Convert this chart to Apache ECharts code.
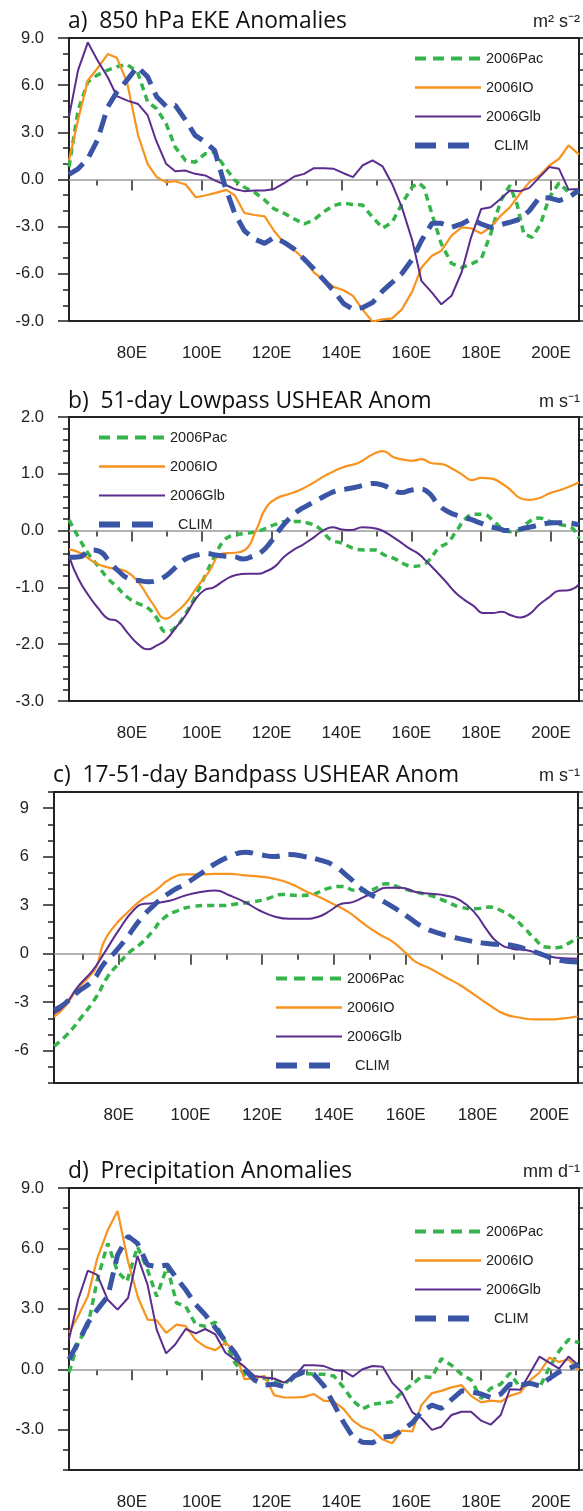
<!DOCTYPE html>
<html>
<head>
<meta charset="utf-8">
<script src="https://cdn.jsdelivr.net/npm/echarts@6/dist/echarts.min.js"></script>
<style>
  html, body { margin: 0; padding: 0; background: #fff; }
  #main { width: 583px; height: 1511px; }
</style>
</head>
<body>
<div id="main"></div>
<script>
// longitude ticks, shared by all panels
const lonMajor = [80, 100, 120, 140, 160, 180, 200];
const lonMinor = [70, 90, 110, 130, 150, 170, 190];
const seriesNames = ["2006Pac", "2006IO", "2006Glb", "CLIM"];

// a) 850 hPa EKE anomalies  [lon, value]
const ekeTicks = [-9, -6, -3, 0, 3, 6, 9];
const ekeMinor = [-8, -7, -5, -4, -2, -1, 1, 2, 4, 5, 7, 8];
const ekePac = [[62,0.79],[64.6,4.4],[67.4,6.2],[70.1,6.64],[73.1,6.96],[75.7,7.17],[78.6,7.32],[81.6,6.85],[84.5,4.94],[87.1,4.5],[89.8,3.55],[92.4,2.06],[95.4,1.2],[98.1,1.1],[101,1.64],[103.7,1.74],[106.6,0.79],[109.5,-0.06],[112.2,-0.49],[115.1,-0.81],[118,-1.3],[120.7,-1.87],[123.6,-2.15],[126.5,-2.51],[129.3,-2.83],[132.1,-2.57],[135,-2.04],[137.8,-1.66],[140.6,-1.49],[143.3,-1.6],[146,-1.62],[148.9,-2.4],[151.8,-3.09],[154.5,-2.72],[157.3,-1.55],[160.3,-0.45],[162.2,-0.23],[163.6,-0.5],[165.9,-2.19],[168.6,-4.1],[171.5,-5.34],[174.4,-5.6],[177.1,-5.38],[180,-5.06],[182.7,-3.47],[185.6,-1.34],[188.2,-0.38],[190.3,-1.6],[192.2,-3.47],[194.6,-3.68],[197,-2.83],[199.5,-1.13],[202.3,-0.23],[205,-0.81],[208,-0.81]];
const ekeIO = [[62,1.2],[64.6,3.8],[67.4,6.3],[70.1,7.06],[73.1,7.98],[75.7,7.74],[78.6,6.2],[81.8,2.8],[84.5,1.0],[87.1,0.15],[89.8,-0.17],[92.4,-0.11],[95.4,-0.32],[98.3,-1.13],[101,-1.02],[103.7,-0.87],[107.1,-0.66],[109.5,-1.02],[112.2,-2.13],[115.1,-2.26],[118,-2.34],[120.7,-3.26],[123.6,-4.06],[126.5,-4.49],[129.3,-5.06],[132.1,-5.9],[135,-6.4],[137.8,-6.83],[140.6,-7.04],[143.3,-7.4],[146,-8.26],[148.9,-9.04],[151.8,-8.9],[154.5,-8.83],[157.3,-8.26],[160.3,-7.1],[162.9,-5.6],[165.9,-4.85],[168.6,-4.53],[171.5,-3.57],[174.4,-3.04],[177.1,-3.1],[180,-3.43],[182.7,-3.04],[185.6,-2.3],[188.2,-1.77],[191.2,-0.87],[193.8,-0.17],[196.7,0.26],[199.5,0.89],[202.3,1.32],[205,2.17],[208,1.6]];
const ekeGlb = [[62,3.98],[64.6,6.96],[67.4,8.72],[70.1,7.6],[73.1,6.5],[75.7,5.3],[78.9,5.0],[81.8,4.8],[84.5,4.1],[86.9,2.5],[89.8,1.0],[92.4,0.53],[95.2,0.57],[98.1,0.36],[101,0.26],[103.7,-0.06],[106.6,-0.32],[109.3,-0.6],[112.1,-0.74],[115.1,-0.7],[118,-0.7],[120.7,-0.6],[123.6,-0.23],[126.5,0.19],[129.3,0.36],[132.1,0.72],[135,0.72],[137.8,0.68],[140.6,0.4],[143.3,0.15],[146,0.89],[148.9,1.21],[151.8,0.83],[154.5,-0.28],[157.3,-1.77],[160.3,-3.9],[162.9,-6.45],[165.9,-7.2],[168.6,-7.94],[171.5,-7.4],[174.4,-5.9],[177.1,-3.68],[180,-1.87],[182.7,-1.77],[185.6,-1.23],[188.2,-0.7],[191.2,-0.74],[193.8,-0.53],[196.7,0.15],[199.5,0.79],[202.3,0.68],[205,-0.64],[208,-0.6]];
const ekeClim = [[62,0.32],[64.6,0.68],[67.4,1.32],[70.1,2.49],[73.1,4.62],[75.7,5.57],[78.6,6.32],[81.6,7.17],[84.5,6.53],[87.1,5.26],[89.8,4.66],[92.4,4.72],[95.4,3.77],[98.1,2.81],[101,2.38],[103.7,1.85],[106.6,-0.38],[109.5,-2.19],[112.2,-3.26],[115.1,-3.79],[118,-4.06],[120.7,-3.68],[123.6,-4.0],[126.5,-4.43],[129.3,-5.06],[132.1,-5.7],[135,-6.4],[137.8,-7.09],[140.6,-7.89],[143.3,-8.26],[146,-8.15],[148.9,-7.83],[151.8,-7.09],[154.5,-6.55],[157.3,-5.98],[160.3,-5.06],[162.9,-3.89],[165.9,-2.79],[168.6,-2.79],[171.5,-3.04],[174.4,-2.83],[177.1,-2.51],[180,-2.83],[182.7,-3.04],[185.6,-2.87],[188.2,-2.72],[191.2,-2.51],[193.8,-1.98],[196.7,-1.13],[199.5,-1.17],[202.3,-1.34],[205,-1.13],[208,-0.7]];

// b) 51-day lowpass USHEAR anomalies
const lowTicks = [-3, -2, -1, 0, 1, 2];
const lowMinor = [-2.8,-2.6,-2.4,-2.2,-1.8,-1.6,-1.4,-1.2,-0.8,-0.6,-0.4,-0.2,0.2,0.4,0.6,0.8,1.2,1.4,1.6,1.8];
const lowPac = [[62,0.19],[65.1,-0.16],[67.8,-0.43],[70.4,-0.63],[73.1,-0.84],[75.7,-0.99],[78.4,-1.16],[81.6,-1.28],[84.3,-1.35],[86.9,-1.52],[89.8,-1.78],[92.2,-1.72],[95.4,-1.46],[98.6,-1.1],[101.3,-0.75],[103.9,-0.43],[106.6,-0.16],[109.3,-0.08],[112.4,-0.05],[115.6,-0.02],[118.3,0.04],[121.5,0.12],[124.1,0.16],[127.3,0.16],[130.5,0.13],[133.7,0.04],[136.9,-0.16],[140.1,-0.22],[143.3,-0.31],[146.5,-0.34],[149.7,-0.34],[152.3,-0.43],[155,-0.49],[157.7,-0.58],[160.3,-0.63],[163,-0.61],[165.1,-0.52],[167.8,-0.31],[170.4,-0.21],[173.1,0.01],[175.7,0.22],[178.4,0.29],[180.5,0.29],[183.2,0.19],[185.9,0.04],[188.5,-0.02],[191.2,0.02],[193.8,0.16],[196.5,0.22],[199.7,0.16],[202.9,0.1],[205.5,0.07],[208,-0.14]];
const lowIO = [[62,-0.33],[65.1,-0.39],[69.9,-0.58],[74.1,-0.66],[78.4,-0.72],[82.1,-0.93],[85.9,-1.28],[89.8,-1.55],[92.2,-1.46],[95.4,-1.28],[98.6,-1.0],[101.8,-0.75],[106.1,-0.4],[109.3,-0.39],[112.4,-0.34],[115.6,0.01],[118.3,0.39],[121.5,0.57],[124.7,0.64],[127.9,0.71],[131.6,0.83],[134.8,0.95],[138,1.05],[141.2,1.13],[144.4,1.18],[146.5,1.25],[148.6,1.33],[151.8,1.4],[155,1.29],[157.7,1.25],[160.3,1.23],[163,1.26],[165.6,1.19],[168.8,1.17],[172,1.08],[174.7,0.98],[177.3,0.89],[180,0.93],[182.7,0.92],[185.9,0.83],[188.5,0.71],[191.2,0.57],[193.8,0.54],[196.5,0.57],[199.7,0.66],[202.9,0.72],[205.5,0.78],[208,0.85]];
const lowGlb = [[62,-0.45],[64.6,-0.84],[67.8,-1.16],[70.4,-1.37],[73.1,-1.55],[75.7,-1.59],[78.9,-1.81],[81.6,-1.99],[84.5,-2.09],[86.9,-2.03],[89.8,-1.92],[92.8,-1.69],[95.4,-1.49],[98.1,-1.22],[100.7,-1.05],[103.4,-1.0],[106.6,-0.87],[109.8,-0.78],[113,-0.76],[116.2,-0.76],[118.3,-0.72],[121,-0.63],[123.6,-0.46],[126.3,-0.34],[128.9,-0.25],[131.6,-0.14],[134.8,0.0],[137.4,0.06],[140.1,0.02],[142.8,0.01],[146,0.06],[148.6,0.05],[151.3,0.01],[153.9,-0.08],[156.6,-0.19],[159.3,-0.31],[161.9,-0.4],[164,-0.52],[166.7,-0.69],[169.9,-0.9],[172.6,-1.09],[175.2,-1.22],[177.9,-1.33],[180.5,-1.45],[183.2,-1.45],[185.9,-1.43],[188.5,-1.49],[191.2,-1.53],[193.8,-1.47],[196.5,-1.31],[199.1,-1.19],[202.3,-1.06],[205,-1.05],[208,-0.95]];
const lowClim = [[62,-0.47],[65.1,-0.46],[68.3,-0.34],[70.9,-0.37],[73.6,-0.55],[76.3,-0.72],[78.9,-0.84],[82.1,-0.88],[84.8,-0.9],[87.4,-0.87],[90.1,-0.78],[92.8,-0.63],[95.4,-0.5],[98.6,-0.43],[101.3,-0.4],[103.9,-0.43],[106.6,-0.45],[109.3,-0.46],[111.9,-0.5],[114.6,-0.45],[117.2,-0.37],[119.9,-0.19],[122.6,0.04],[125.2,0.22],[127.9,0.36],[130.5,0.45],[133.2,0.54],[135.9,0.63],[138.5,0.7],[141.2,0.73],[143.8,0.76],[146.5,0.8],[149.1,0.83],[151.8,0.8],[154.5,0.73],[157.1,0.67],[159.8,0.71],[162.4,0.73],[165.1,0.66],[167.8,0.45],[171,0.32],[174.1,0.25],[176.8,0.2],[179.5,0.14],[182.1,0.08],[184.8,0.04],[187.4,0.0],[190.1,0.01],[192.8,0.05],[195.4,0.08],[198.1,0.12],[200.7,0.14],[203.9,0.14],[208,0.1]];

// c) 17-51-day bandpass USHEAR anomalies
const bandTicks = [-6, -3, 0, 3, 6, 9];
const bandMinor = [-8, -7, -5, -4, -2, -1, 1, 2, 4, 5, 7, 8, 10];
const bandPac = [[62,-5.72],[65.5,-5.04],[69.7,-3.91],[73.8,-2.67],[76.9,-1.44],[80,-0.62],[83.1,0.1],[86.2,0.62],[89.3,1.34],[92.4,2.16],[96.6,2.67],[100.7,2.92],[104.8,2.98],[109,2.98],[113.1,3.09],[117.2,3.19],[121.4,3.4],[125.5,3.66],[129.7,3.6],[133.8,3.66],[137.9,4.01],[142.1,4.16],[146.2,3.91],[150.3,3.95],[154.5,4.32],[158.6,4.07],[162.8,3.81],[166.9,3.6],[171,3.25],[175.2,2.88],[179.3,2.78],[183.4,2.88],[186.5,2.67],[189.7,2.26],[192.8,1.65],[195.9,0.93],[199,0.41],[202.1,0.37],[205.2,0.62],[208,1.03]];
const bandIO = [[62,-3.91],[65,-3.29],[68.6,-2.16],[71.7,-1.44],[73.8,-0.82],[75.9,0.72],[79,1.75],[82.1,2.47],[86.2,3.29],[90.3,3.91],[94.5,4.63],[98.6,4.9],[102.8,4.9],[106.9,4.94],[111,4.94],[115.2,4.84],[119.3,4.77],[123.4,4.63],[127.6,4.36],[131.7,3.91],[135.9,3.5],[140,3.05],[144.1,2.57],[148.3,1.85],[152.4,1.23],[156.5,0.72],[160.2,0.0],[162.8,-0.51],[166.9,-0.93],[171,-1.44],[175.2,-1.95],[179.3,-2.57],[183.4,-3.19],[187.6,-3.74],[191.7,-3.95],[195.9,-4.07],[200,-4.07],[204.1,-4.0],[208,-3.87]];
const bandGlb = [[62,-3.7],[65,-3.19],[68.6,-2.06],[72.8,-1.03],[75.9,0.0],[80,1.44],[84.1,2.67],[87.2,3.09],[90.3,3.13],[94.5,3.29],[98.6,3.6],[102.8,3.81],[106.9,3.91],[111,3.6],[115.2,3.19],[119.3,2.67],[123.4,2.3],[127.6,2.16],[131.7,2.16],[135.9,2.3],[139,2.67],[142.1,3.09],[145.2,3.19],[148.3,3.5],[151.4,3.81],[154.5,4.07],[158.6,4.07],[162.8,3.81],[166.9,3.7],[171,3.6],[175.2,3.29],[179.3,2.51],[182.4,1.54],[185.5,0.72],[189.7,0.31],[193.8,0.21],[197.9,-0.04],[202.1,-0.25],[208,-0.31]];
const bandClim = [[62,-3.5],[65,-3.09],[68.6,-2.37],[72.8,-1.65],[75.9,-0.62],[79,0.1],[82.1,0.93],[86.2,2.16],[90.3,3.09],[94.5,3.81],[98.6,4.32],[102.8,4.94],[106.9,5.56],[111,6.01],[115.2,6.28],[119.3,6.13],[123.4,6.01],[127.6,6.13],[131.7,6.01],[135.9,5.8],[140,5.45],[144.1,4.73],[148.3,3.91],[152.4,3.4],[156.5,2.88],[160.7,2.26],[164.8,1.65],[168.9,1.28],[173.1,1.03],[177.2,0.82],[181.4,0.66],[185.5,0.58],[189.7,0.51],[193.8,0.25],[197.9,-0.04],[202.1,-0.37],[208,-0.51]];

// d) precipitation anomalies
const precTicks = [-3, 0, 3, 6, 9];
const precMinor = [-5, -4, -2, -1, 1, 2, 4, 5, 7, 8];
const precPac = [[62,-0.16],[64.6,1.32],[67.4,2.14],[70.1,4.44],[73.1,6.25],[75.9,4.85],[78.6,4.36],[81.6,6.09],[84.5,4.93],[87.1,3.62],[90.1,5.1],[92.8,3.29],[95.4,3.13],[98.3,2.22],[101,2.14],[103.9,2.34],[106.8,1.32],[109.5,0.33],[112.2,-0.25],[115.1,-0.41],[118,-0.46],[120.7,-0.58],[123.6,-0.74],[126.5,-0.33],[129.3,-0.2],[132.1,-0.25],[135,-0.25],[137.8,-0.33],[140.6,-0.9],[143.3,-1.56],[146,-1.97],[148.9,-1.73],[151.8,-1.68],[154.5,-1.61],[157.3,-1.15],[160.3,-0.74],[162.9,-0.36],[165.9,-0.41],[168.6,0.53],[171.5,0.2],[174.4,-0.25],[177.1,-0.53],[180,-1.45],[182.7,-0.95],[185.6,-0.74],[188.2,-0.2],[191.2,-0.9],[193.8,-0.63],[196.7,-0.9],[199.5,0.08],[202.3,0.9],[205,1.48],[208,1.32]];
const precIO = [[62,1.81],[64.6,2.63],[67.4,3.62],[70.1,5.51],[73.1,6.91],[75.9,7.86],[78.9,5.35],[81.8,3.54],[84.5,2.47],[87.1,2.43],[89.8,1.81],[92.8,2.22],[95.4,2.14],[98.3,1.45],[101,1.12],[103.9,0.95],[106.8,1.32],[109.5,0.9],[112.2,-0.49],[115.1,-0.46],[118,-0.33],[120.7,-1.28],[123.6,-1.4],[126.5,-1.4],[129.3,-1.37],[132.1,-1.23],[135,-1.56],[137.8,-1.61],[140.6,-1.97],[143.3,-2.55],[146,-2.88],[148.9,-3.04],[151.8,-3.49],[154.5,-3.67],[157.3,-3.04],[160.3,-3.09],[162.9,-1.78],[165.9,-1.18],[168.6,-1.07],[171.5,-0.9],[174.4,-0.79],[177.1,-1.32],[180,-1.64],[182.7,-1.56],[185.6,-1.61],[188.2,-1.32],[191.2,-1.15],[193.8,-0.58],[196.7,-0.16],[199.5,0.58],[202.3,0.36],[205,0.49],[208,-0.03]];
const precGlb = [[62,1.48],[64.6,3.45],[67.4,4.9],[70.1,4.69],[73.1,3.45],[75.9,2.96],[78.9,3.54],[81.6,5.63],[84.5,4.19],[87.1,1.97],[89.8,0.79],[92.4,1.23],[95.4,2.0],[98.3,1.78],[101,2.0],[103.9,1.73],[106.8,0.82],[109.5,0.49],[112.2,0.13],[115.1,-0.33],[118,-0.41],[120.7,-0.46],[123.6,-0.66],[126.5,-0.36],[129.3,0.2],[132.1,0.2],[135,0.16],[137.8,-0.03],[140.6,-0.08],[143.3,-0.36],[146,0.0],[148.9,0.16],[151.8,0.13],[154.5,-0.66],[157.3,-1.15],[160.3,-2.14],[162.9,-2.43],[165.9,-3.01],[168.6,-2.85],[171.5,-2.27],[174.4,-2.11],[177.1,-2.11],[180,-2.55],[182.7,-2.75],[185.6,-2.27],[188.2,-0.99],[191.2,-1.02],[193.8,-0.25],[196.7,0.63],[199.5,0.33],[202.3,0.03],[205,0.63],[208,0.16]];
const precClim = [[62,0.49],[64.6,1.32],[67.4,2.3],[70.1,2.96],[73.1,3.62],[75.9,5.67],[78.9,6.61],[81.6,6.25],[84.5,5.18],[87.1,5.1],[90.1,5.18],[92.8,4.52],[95.4,3.95],[98.3,3.21],[101,2.71],[103.9,2.06],[106.8,1.4],[109.5,0.82],[112.2,0.0],[115.1,-0.53],[118,-0.79],[120.7,-0.74],[123.6,-0.86],[126.5,-0.33],[129.3,-0.13],[132.1,-0.25],[135,-0.82],[137.8,-1.73],[140.6,-2.63],[143.3,-3.37],[146,-3.62],[148.9,-3.65],[151.8,-3.37],[154.5,-3.32],[157.3,-3.04],[160.3,-2.66],[162.9,-2.11],[165.9,-1.78],[168.6,-1.94],[171.5,-1.51],[174.4,-1.07],[177.1,-1.12],[180,-1.23],[182.7,-1.4],[185.6,-1.23],[188.2,-0.74],[191.2,-0.79],[193.8,-0.69],[196.7,-0.82],[199.5,-0.46],[202.3,-0.13],[205,0.03],[208,0.25]];

const lineStyles = {
  "2006Pac": { color: "#35b44a", width: 3.5, type: [7, 5] },
  "2006IO": { color: "#f7931e", width: 2.2, type: "solid" },
  "2006Glb": { color: "#5b2d8e", width: 2, type: "solid" },
  "CLIM": { color: "#3b55a6", width: 5, type: [18, 9] },
};
// legend samples are drawn a little longer / heavier than in the plot
const legendLines = {
  "2006Pac": { color: "#35b44a", width: 4, type: [11, 7] },
  "2006IO": { color: "#f7931e", width: 2.5, type: "solid" },
  "2006Glb": { color: "#5b2d8e", width: 2, type: "solid" },
  "CLIM": { color: "#3b55a6", width: 6, type: [21, 12] },
};

const panels = [
  { title: "a)  850 hPa EKE Anomalies", unit: "m² s⁻²", titleTop: 10, left: 69, top: 38, width: 510, height: 283,
    min: -9, max: 9, ticks: ekeTicks, minor: ekeMinor, digits: 1,
    data: [ekePac, ekeIO, ekeGlb, ekeClim], smooth: false, legendLeft: 412, legendTop: 51 },
  { title: "b)  51-day Lowpass USHEAR Anom", unit: "m s⁻¹", titleTop: 390, left: 69, top: 417, width: 510, height: 284,
    min: -3, max: 2, ticks: lowTicks, minor: lowMinor, digits: 1,
    data: [lowPac, lowIO, lowGlb, lowClim], smooth: true, legendLeft: 96, legendTop: 430 },
  { title: "c)  17-51-day Bandpass USHEAR Anom", unit: "m s⁻¹", titleTop: 764, left: 54, top: 792, width: 524, height: 291,
    min: -8, max: 10, ticks: bandTicks, minor: bandMinor, digits: 0,
    data: [bandPac, bandIO, bandGlb, bandClim], smooth: true, legendLeft: 273, legendTop: 971 },
  { title: "d)  Precipitation Anomalies", unit: "mm d⁻¹", titleTop: 1160, left: 69, top: 1188, width: 510, height: 284,
    min: -5, max: 9, ticks: precTicks, minor: precMinor, digits: 1,
    data: [precPac, precIO, precGlb, precClim], smooth: false, legendLeft: 412, legendTop: 1224 },
];

const axisFont = "'Liberation Sans', Arial, sans-serif";
const tickLine = { color: "#222", width: 1.5 };

let myChart = echarts.init(document.querySelector("#main"));

let grid = [], xAxis = [], yAxis = [], series = [], title = [], legend = [];

panels.forEach((p, i) => {
  grid.push({
    left: p.left, top: p.top, width: p.width, height: p.height,
    show: true, borderColor: "#222", borderWidth: 2, backgroundColor: "transparent",
  });

  title.push({
    text: p.title, left: p.left - 1, top: p.titleTop, padding: 0,
    textStyle: { fontFamily: "'Open Sans', sans-serif", fontSize: 22.8, fontWeight: "normal", color: "#111" },
  });
  title.push({
    text: p.unit, right: 3, top: p.titleTop + 3, padding: 0,
    textStyle: { fontFamily: axisFont, fontSize: 18, fontWeight: "normal", color: "#222" },
  });

  // x axes: minor ticks, then major ticks with labels
  const xBase = { type: "value", gridIndex: i, min: 62, max: 208, position: "bottom",
    axisLine: { show: false }, splitLine: { show: false } };
  xAxis.push(Object.assign({}, xBase, {
    axisTick: { show: true, customValues: lonMinor, length: 6, lineStyle: tickLine },
    axisLabel: { show: false },
  }));
  xAxis.push(Object.assign({}, xBase, {
    axisTick: { show: true, customValues: lonMajor, length: 11, lineStyle: tickLine },
    axisLabel: { show: true, customValues: lonMajor, formatter: (v) => v + "E", margin: 24,
      fontFamily: axisFont, fontSize: 17, color: "#222" },
  }));

  // y axes: minor ticks, major ticks with labels, right side ticks
  const yBase = { type: "value", gridIndex: i, min: p.min, max: p.max,
    axisLine: { show: false }, splitLine: { show: false } };
  yAxis.push(Object.assign({}, yBase, {
    position: "left",
    axisTick: { show: true, customValues: p.minor, length: 6, lineStyle: tickLine },
    axisLabel: { show: false },
  }));
  yAxis.push(Object.assign({}, yBase, {
    position: "left",
    axisTick: { show: true, customValues: p.ticks, length: 11, lineStyle: tickLine },
    axisLabel: { show: true, customValues: p.ticks, formatter: (v) => v.toFixed(p.digits), margin: 25,
      fontFamily: axisFont, fontSize: 16.5, color: "#222" },
  }));
  yAxis.push(Object.assign({}, yBase, {
    position: "right",
    axisTick: { show: true, customValues: p.ticks.concat(p.minor), length: 5, lineStyle: tickLine },
    axisLabel: { show: false },
  }));

  seriesNames.forEach((name, k) => {
    const s = {
      name: name, type: "line", xAxisIndex: 2 * i, yAxisIndex: 3 * i,
      data: p.data[k], symbol: "none", smooth: p.smooth,
      lineStyle: lineStyles[name], itemStyle: { color: lineStyles[name].color },
      z: 3 + k, animation: false,
    };
    if (k === 0) {
      s.markLine = {
        silent: true, symbol: "none", label: { show: false },
        lineStyle: { color: "#9a9a9a", width: 1.5, type: "solid" },
        data: [{ yAxis: 0 }], z: 1,
      };
    }
    series.push(s);
  });

  legend.push({
    data: seriesNames.map((n) => ({ name: n, itemStyle: { opacity: 0 }, lineStyle: legendLines[n] })),
    orient: "vertical", left: p.legendLeft, top: p.legendTop,
    itemWidth: 66, itemHeight: 14, itemGap: 14, padding: 0, selectedMode: false,
    formatter: (n) => (n === "CLIM" ? "  CLIM" : n),
    textStyle: { fontFamily: axisFont, fontSize: 14.5, color: "#222", lineHeight: 14 },
  });
});

let option = { animation: false, title, legend, grid, xAxis, yAxis, series };
myChart.setOption(option);

window.addEventListener("resize", () => {
  myChart.resize();
});
</script>
</body>
</html>
